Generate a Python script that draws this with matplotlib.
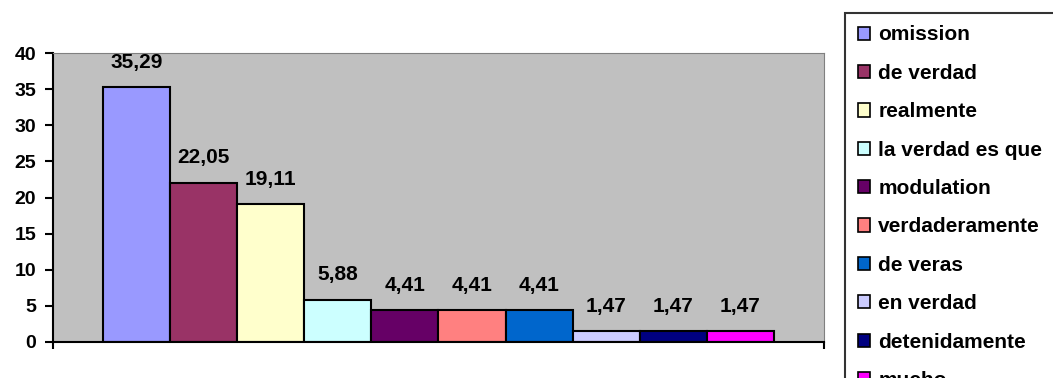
import matplotlib.pyplot as plt
import numpy as np
from matplotlib.patches import Patch

plt.rcParams["font.family"] = ["Liberation Sans", "DejaVu Sans"]
plt.rcParams["font.weight"] = "bold"

categories = [
    "omission", "de verdad", "realmente", "la verdad es que", "modulation",
    "verdaderamente", "de veras", "en verdad", "detenidamente", "mucho",
]
values = [35.29, 22.05, 19.11, 5.88, 4.41, 4.41, 4.41, 1.47, 1.47, 1.47]
value_labels = ["35,29", "22,05", "19,11", "5,88", "4,41", "4,41", "4,41", "1,47", "1,47", "1,47"]
colors = [
    "#9999FF", "#993366", "#FFFFCC", "#CCFFFF", "#660066",
    "#FF8080", "#0066CC", "#CCCCFF", "#000080", "#FF00FF",
]

fig = plt.figure(figsize=(10.53, 3.78), dpi=100)
ax = fig.add_axes([53 / 1053, 1 - 342 / 378, 771 / 1053, 289 / 378])
ax.set_facecolor("#C0C0C0")

x = np.arange(len(values))
ax.bar(x, values, width=1.0, color=colors, edgecolor="black", linewidth=1.5, zorder=2)

for xi, v, lab in zip(x, values, value_labels):
    ax.annotate(lab, (xi, v), xytext=(0, 11), textcoords="offset points",
                ha="center", va="bottom", fontsize=15, fontweight="bold")

ax.set_xlim(-1.25, 10.25)
ax.set_ylim(0, 40)
ax.set_yticks(range(0, 41, 5))
ax.set_xticks([-1.25, 10.25])
ax.set_xticklabels([])
ax.tick_params(axis="y", labelsize=14, length=6, width=1.5, pad=6, direction="out")
ax.tick_params(axis="x", length=5, width=1.5, direction="out")
for lbl in ax.get_yticklabels():
    lbl.set_fontweight("bold")

ax.spines["left"].set_color("black")
ax.spines["left"].set_linewidth(1.5)
ax.spines["bottom"].set_color("black")
ax.spines["bottom"].set_linewidth(1.5)
ax.spines["top"].set_color("#808080")
ax.spines["right"].set_color("#808080")

# legend runs off the bottom edge, as in the original chart
handles = [Patch(facecolor=c, edgecolor="black", linewidth=1.2) for c in colors]
leg = fig.legend(handles, categories, loc="upper left",
                 bbox_to_anchor=(845 / 1053, 1 - 13 / 378),
                 prop={"weight": "bold", "size": 15},
                 frameon=True, fancybox=False, edgecolor="black",
                 handlelength=0.6, handleheight=0.6, handletextpad=0.4,
                 labelspacing=0.93, borderaxespad=0, borderpad=0.6)
leg.get_frame().set_linewidth(1.5)

fig.savefig("out.png", dpi=100)
